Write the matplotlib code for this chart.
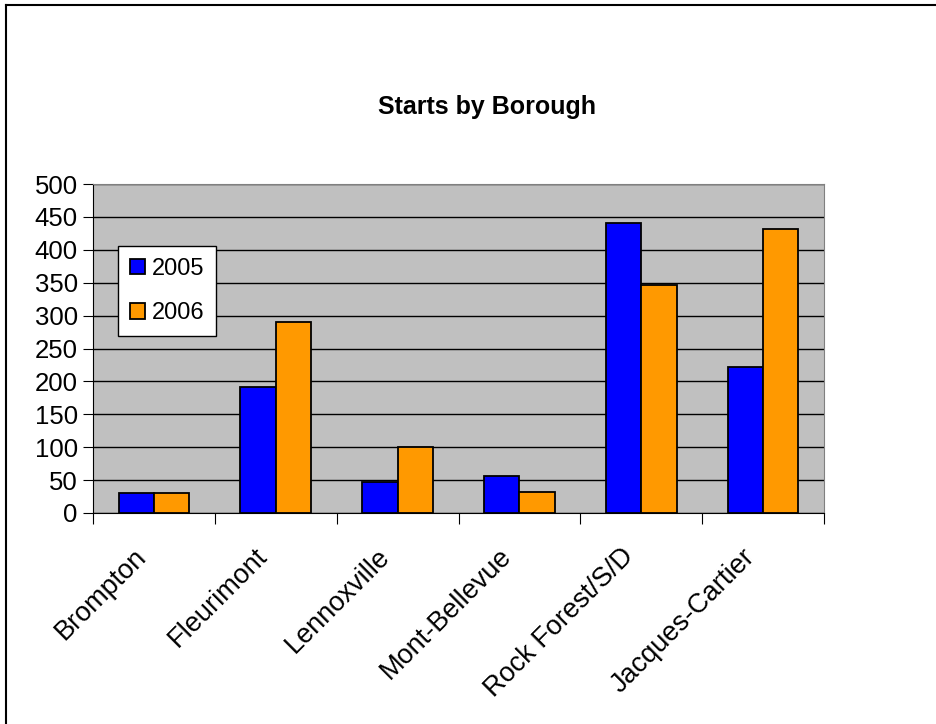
import numpy as np
import matplotlib
matplotlib.use("Agg")
import matplotlib.pyplot as plt
import matplotlib.transforms as mtransforms
from matplotlib.lines import Line2D

boroughs = ["Brompton", "Fleurimont", "Lennoxville", "Mont-Bellevue",
            "Rock Forest/S/D", "Jacques-Cartier"]
starts_2005 = [30, 192, 47, 56, 441, 222]
starts_2006 = [30, 290, 100, 32, 346, 432]
series_labels = ["2005", "2006"]

plt.rcParams["font.family"] = ["Liberation Sans", "DejaVu Sans"]

W, H = 936, 724
fig = plt.figure(figsize=(W / 100, H / 100), dpi=100)

# frame of the chart area (only top and left edges are visible)
fig.add_artist(Line2D([6 / W, 6 / W], [0, 1 - 5 / H], color="black", lw=1.5))
fig.add_artist(Line2D([6 / W, 1], [1 - 5 / H, 1 - 5 / H], color="black", lw=1.5))

ax = fig.add_axes([93 / W, 1 - 513 / H, 731 / W, 329 / H])
ax.set_facecolor("#C0C0C0")

x = np.arange(len(boroughs))
w = 0.29
ax.bar(x - w / 2, starts_2005, w, color="#0000FF", edgecolor="black",
       linewidth=1.3, label=series_labels[0], zorder=3)
ax.bar(x + w / 2, starts_2006, w, color="#FF9900", edgecolor="black",
       linewidth=1.3, label=series_labels[1], zorder=3)

ax.set_xlim(-0.5, len(boroughs) - 0.5)
ax.set_ylim(0, 500)
ax.set_yticks(np.arange(0, 501, 50))
ax.yaxis.grid(True, color="black", linewidth=1)
ax.set_axisbelow(True)

# category boundary ticks, labels centered between them
ax.set_xticks(np.arange(-0.5, len(boroughs), 1.0))
ax.set_xticklabels([])
ax.set_xticks(x, minor=True)
ax.set_xticklabels(boroughs, minor=True, rotation=45, ha="right", va="top",
                   rotation_mode="anchor", fontsize=19.5)
ax.tick_params(axis="x", which="minor", length=0, pad=22)
ax.tick_params(axis="x", which="major", length=8, direction="out", color="black")
ax.tick_params(axis="y", length=7, direction="out", labelsize=18.5, color="black", pad=4)
shift = mtransforms.ScaledTranslation(-0.21, 0, fig.dpi_scale_trans)
for lbl in ax.get_xticklabels(minor=True):
    lbl.set_transform(lbl.get_transform() + shift)

for s in ["top", "right"]:
    ax.spines[s].set_color("#808080")
for s in ["left", "bottom"]:
    ax.spines[s].set_color("black")

fig.text(487 / W, 1 - 107 / H, "Starts by Borough", ha="center", va="center",
         fontsize=18, fontweight="bold")

leg = ax.legend(loc="upper left", bbox_to_anchor=((118 - 93) / 731, (513 - 246) / 329),
                fontsize=17, frameon=True, fancybox=False, edgecolor="black",
                framealpha=1, handlelength=0.64, handleheight=0.64, handletextpad=0.3,
                labelspacing=0.95, borderpad=0.5, borderaxespad=0)
leg.get_frame().set_linewidth(1)

fig.savefig("out.png", dpi=100)
